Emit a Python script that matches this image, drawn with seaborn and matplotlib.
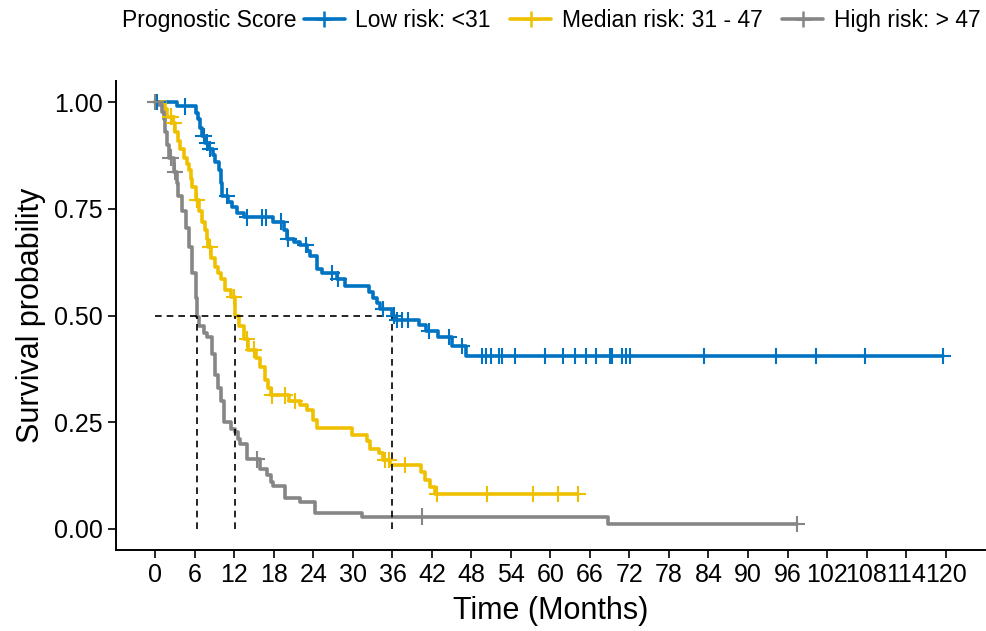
import numpy as np
import pandas as pd
import seaborn as sns
from matplotlib import pyplot as plt
from matplotlib.lines import Line2D

# Kaplan-Meier steps: (time of drop, survival after drop)
low_t = [0, 3.3, 6.1, 6.5, 6.8, 7.0, 7.5, 8.1, 8.7, 9.1, 9.6, 9.9, 10.1, 11.0, 11.6, 12.4, 13.5,
         17.9, 19.5, 20.0, 21.0, 22.0, 23.0, 23.5, 24.5, 25.3, 27.5, 28.8, 32.4, 33.0, 33.6, 34.1,
         35.9, 36.4, 40.0, 41.1, 42.9, 45.0, 47.2]
low_s = [1.0, 0.99, 0.975, 0.96, 0.94, 0.92, 0.905, 0.89, 0.875, 0.86, 0.84, 0.81, 0.78, 0.765, 0.755,
         0.74, 0.73, 0.72, 0.70, 0.68, 0.673, 0.665, 0.65, 0.64, 0.61, 0.60, 0.585, 0.57, 0.555, 0.54,
         0.53, 0.515, 0.50, 0.49, 0.478, 0.464, 0.45, 0.428, 0.405]
low_cens = [0.3, 4.5, 7.3, 7.8, 8.3, 10.9, 13.9, 16.2, 16.8, 19.0, 20.2, 22.8, 26.8, 27.8, 34.6, 36.2,
            36.7, 37.4, 38.4, 41.6, 44.6, 46.5, 49.6, 50.2, 51.0, 52.2, 52.7, 54.6, 59.2, 61.9, 63.7,
            65.4, 66.9, 69.0, 69.4, 70.9, 71.5, 72.1, 83.3, 94.2, 100.4, 107.7, 119.6]

med_t = [0, 1.5, 1.8, 2.6, 3.0, 3.5, 3.8, 4.3, 4.8, 5.1, 5.4, 5.6, 6.1, 6.6, 7.1, 7.5, 7.8, 8.0, 8.5,
         9.1, 9.5, 9.9, 10.6, 11.4, 12.1, 12.7, 13.4, 14.0, 15.2, 15.9, 16.7, 17.1, 17.5, 20.3, 22.0,
         23.0, 24.0, 24.5, 29.8, 32.1, 32.6, 33.9, 34.6, 35.7, 40.4, 41.0, 41.7, 42.5]
med_s = [1.0, 0.985, 0.966, 0.95, 0.93, 0.91, 0.89, 0.87, 0.855, 0.84, 0.82, 0.80, 0.77, 0.745, 0.72,
         0.70, 0.68, 0.66, 0.635, 0.614, 0.60, 0.585, 0.56, 0.544, 0.50, 0.475, 0.445, 0.42, 0.40,
         0.38, 0.35, 0.33, 0.313, 0.30, 0.29, 0.278, 0.255, 0.236, 0.22, 0.205, 0.188, 0.177, 0.162,
         0.15, 0.134, 0.115, 0.099, 0.082]
med_cens = [2.3, 2.8, 6.3, 8.3, 11.9, 13.9, 14.9, 17.7, 19.7, 21.2, 34.9, 35.4, 37.9, 42.8, 50.4,
            57.3, 61.1, 64.2]

high_t = [0, 0.5, 1.0, 1.3, 1.5, 1.8, 2.1, 2.8, 3.2, 3.5, 4.0, 4.6, 5.1, 5.6, 6.1, 6.3, 6.6, 7.3,
          7.8, 8.6, 9.1, 9.5, 9.9, 10.4, 11.4, 12.1, 12.5, 12.9, 13.9, 15.9, 16.9, 17.5, 17.9, 19.7,
          22.0, 24.3, 31.4, 68.8]
high_s = [1.0, 0.993, 0.977, 0.96, 0.93, 0.90, 0.87, 0.837, 0.81, 0.78, 0.745, 0.705, 0.66, 0.60,
          0.54, 0.497, 0.475, 0.46, 0.45, 0.41, 0.36, 0.33, 0.30, 0.25, 0.233, 0.228, 0.21, 0.20,
          0.163, 0.14, 0.126, 0.11, 0.10, 0.073, 0.064, 0.037, 0.029, 0.012]
high_cens = [0.0, 2.3, 3.0, 15.4, 40.5, 97.4]

groups = ["Low risk: <31", "Median risk: 31 - 47", "High risk: > 47"]
colors = ["#0073C2", "#EFC000", "#868686"]
x_ticks = list(range(0, 121, 6))
y_ticks = [0, 0.25, 0.5, 0.75, 1.0]

curves = [(low_t, low_s, low_cens), (med_t, med_s, med_cens), (high_t, high_s, high_cens)]

step_rows, cens_rows, medians = [], [], []
for g, (t, s, c) in zip(groups, curves):
    t = np.array(t); s = np.array(s)
    end = max(t.max(), max(c))
    for ti, si in zip(np.append(t, end), np.append(s, s[-1])):
        step_rows.append({"time": ti, "surv": si, "group": g})
    idx = np.searchsorted(t, c, side="right") - 1
    for ci, si in zip(c, s[idx]):
        cens_rows.append({"time": ci, "surv": si, "group": g})
    medians.append(t[np.argmax(s <= 0.5)])

steps = pd.DataFrame(step_rows)
cens = pd.DataFrame(cens_rows)

sns.set_theme(style="ticks")
plt.rcParams["font.family"] = ["Liberation Sans", "DejaVu Sans"]
plt.rcParams["text.color"] = "black"
plt.rcParams["axes.labelcolor"] = "black"

fig = plt.figure(figsize=(9.86, 6.31), dpi=100)
ax = fig.add_axes([0.1176, 0.128, 0.8814, 0.744])

pal = dict(zip(groups, colors))
sns.lineplot(data=steps, x="time", y="surv", hue="group", palette=pal, estimator=None,
             drawstyle="steps-post", linewidth=2.6, legend=False, ax=ax, sort=True)
sns.scatterplot(data=cens, x="time", y="surv", hue="group", palette=pal, marker="+",
                s=140, linewidth=1.5, legend=False, ax=ax, zorder=3)

# median survival lines
ax.plot([0, max(medians)], [0.5, 0.5], color="black", ls=(0, (4, 3)), lw=1.2)
for m in medians:
    ax.plot([m, m], [0, 0.5], color="black", ls=(0, (4, 3)), lw=1.2)

ax.set_xlim(-6, 126)
ax.set_ylim(-0.05, 1.05)
ax.set_xticks(x_ticks)
ax.set_yticks(y_ticks)
ax.set_yticklabels([f"{v:.2f}" for v in y_ticks])
ax.tick_params(labelsize=18, length=6, width=1.2, color="black", labelcolor="black")
ax.set_xlabel("Time (Months)", fontsize=22, labelpad=6, color="black")
ax.set_ylabel("Survival probability", fontsize=22, labelpad=6, color="black")
for sp in ["left", "bottom"]:
    ax.spines[sp].set_linewidth(1.4)
    ax.spines[sp].set_color("black")
sns.despine(ax=ax)

fig.text(0.124, 0.968, "Prognostic Score", fontsize=16.5, va="center", ha="left", color="black")
handles = [Line2D([], [], color=c, lw=2.6, marker="+", markersize=12, markeredgewidth=1.8)
           for c in colors]
fig.legend(handles, groups, loc="center left", bbox_to_anchor=(0.308, 0.968), ncol=3,
           frameon=False, fontsize=16.5, handlelength=1.8, handletextpad=0.45,
           columnspacing=0.85, borderpad=0, borderaxespad=0)

fig.savefig("out.png", dpi=100)
